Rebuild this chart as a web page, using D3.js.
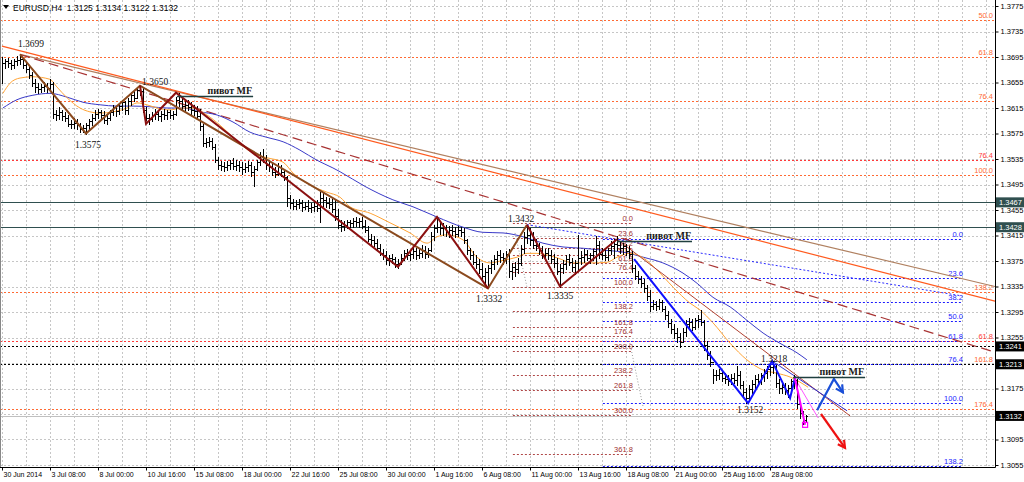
<!DOCTYPE html>
<html><head><meta charset="utf-8">
<script src="https://cdn.jsdelivr.net/npm/d3@7"></script>
<style>body{margin:0;background:#fff}svg{display:block}</style>
</head><body><svg id="c" width="1024" height="482"></svg>
<script>
// ---------- DATA ----------
const symbolTitle = "EURUSD,H4  1.3125 1.3134 1.3122 1.3132";
const highs = [
1.3695,1.3692,1.3694,1.3690,1.3692,1.3696,1.3699,1.3694,1.3688,1.3682,
1.3672,1.3660,1.3655,1.3652,1.3656,1.3654,1.3660,1.3656,1.3612,1.3616,
1.3612,1.3608,1.3604,1.3596,1.3600,1.3598,1.3592,1.3588,1.3592,1.3598,
1.3606,1.3612,1.3614,1.3612,1.3610,1.3604,1.3612,1.3620,1.3618,1.3622,
1.3628,1.3626,1.3630,1.3640,1.3644,1.3648,1.3650,1.3646,1.3616,1.3606,
1.3608,1.3614,1.3612,1.3610,1.3614,1.3612,1.3612,1.3610,1.3632,1.3638,
1.3630,1.3626,1.3628,1.3624,1.3620,1.3618,1.3614,1.3590,1.3568,1.3570,
1.3568,1.3558,1.3538,1.3532,1.3530,1.3532,1.3534,1.3536,1.3534,1.3532,
1.3530,1.3528,1.3532,1.3530,1.3524,1.3534,1.3546,1.3550,1.3542,1.3532,
1.3528,1.3522,1.3528,1.3526,1.3518,1.3508,1.3478,1.3472,1.3470,1.3472,
1.3470,1.3468,1.3470,1.3466,1.3468,1.3470,1.3484,1.3482,1.3476,1.3474,
1.3472,1.3470,1.3456,1.3440,1.3438,1.3440,1.3440,1.3442,1.3444,1.3442,
1.3444,1.3440,1.3430,1.3418,1.3414,1.3410,1.3402,1.3394,1.3390,1.3384,
1.3386,1.3382,1.3378,1.3386,1.3392,1.3394,1.3392,1.3398,1.3396,1.3394,
1.3400,1.3398,1.3396,1.3420,1.3432,1.3442,1.3436,1.3434,1.3432,1.3430,
1.3432,1.3428,1.3430,1.3428,1.3426,1.3410,1.3396,1.3390,1.3384,1.3378,
1.3372,1.3364,1.3368,1.3376,1.3384,1.3390,1.3392,1.3388,1.3390,1.3394,
1.3372,1.3374,1.3380,1.3400,1.3420,1.3432,1.3426,1.3420,1.3410,1.3404,
1.3398,1.3394,1.3396,1.3392,1.3386,1.3380,1.3370,1.3376,1.3384,1.3386,
1.3380,1.3376,1.3416,1.3390,1.3394,1.3392,1.3388,1.3394,1.3414,1.3406,
1.3396,1.3394,1.3396,1.3406,1.3410,1.3414,1.3406,1.3404,1.3402,1.3398,
1.3390,1.3368,1.3360,1.3352,1.3346,1.3338,1.3330,1.3314,1.3312,1.3316,
1.3314,1.3304,1.3296,1.3284,1.3276,1.3270,1.3262,1.3270,1.3282,1.3286,
1.3284,1.3286,1.3290,1.3298,1.3282,1.3250,1.3234,1.3206,1.3204,1.3206,
1.3202,1.3200,1.3196,1.3198,1.3200,1.3210,1.3202,1.3186,1.3176,1.3180,
1.3188,1.3196,1.3198,1.3200,1.3206,1.3210,1.3214,1.3218,1.3212,1.3190,
1.3186,1.3184,1.3180,1.3190,1.3196,1.3190,1.3152,1.3140,1.3134];
const lows = [
1.3655,1.3678,1.3680,1.3676,1.3678,1.3682,1.3684,1.3678,1.3672,1.3662,
1.3650,1.3640,1.3638,1.3640,1.3642,1.3640,1.3644,1.3600,1.3596,1.3598,
1.3596,1.3594,1.3586,1.3584,1.3584,1.3582,1.3578,1.3578,1.3575,1.3582,
1.3588,1.3596,1.3600,1.3598,1.3592,1.3590,1.3596,1.3604,1.3602,1.3606,
1.3612,1.3606,1.3605,1.3620,1.3626,1.3630,1.3636,1.3608,1.3596,1.3590,
1.3594,1.3598,1.3596,1.3594,1.3598,1.3598,1.3600,1.3598,1.3604,1.3618,
1.3612,1.3610,1.3612,1.3606,1.3604,1.3598,1.3580,1.3556,1.3554,1.3556,
1.3550,1.3530,1.3520,1.3518,1.3516,1.3518,1.3520,1.3520,1.3518,1.3516,
1.3512,1.3514,1.3516,1.3508,1.3492,1.3518,1.3526,1.3530,1.3520,1.3516,
1.3510,1.3506,1.3510,1.3508,1.3502,1.3462,1.3458,1.3456,1.3456,1.3458,
1.3454,1.3456,1.3454,1.3452,1.3454,1.3454,1.3436,1.3462,1.3460,1.3458,
1.3452,1.3440,1.3426,1.3422,1.3424,1.3426,1.3428,1.3428,1.3430,1.3428,
1.3426,1.3420,1.3406,1.3402,1.3398,1.3392,1.3384,1.3378,1.3370,1.3368,
1.3372,1.3366,1.3364,1.3370,1.3376,1.3378,1.3376,1.3380,1.3378,1.3380,
1.3382,1.3380,1.3382,1.3390,1.3408,1.3420,1.3418,1.3416,1.3414,1.3412,
1.3416,1.3412,1.3414,1.3414,1.3404,1.3386,1.3378,1.3370,1.3364,1.3356,
1.3346,1.3338,1.3332,1.3356,1.3362,1.3370,1.3374,1.3370,1.3372,1.3350,
1.3346,1.3352,1.3356,1.3368,1.3388,1.3404,1.3400,1.3396,1.3392,1.3386,
1.3380,1.3376,1.3378,1.3372,1.3366,1.3354,1.3335,1.3356,1.3362,1.3368,
1.3360,1.3354,1.3360,1.3370,1.3374,1.3376,1.3372,1.3376,1.3370,1.3380,
1.3378,1.3376,1.3376,1.3386,1.3380,1.3392,1.3388,1.3386,1.3384,1.3380,
1.3358,1.3346,1.3340,1.3334,1.3326,1.3314,1.3296,1.3300,1.3298,1.3300,
1.3296,1.3284,1.3272,1.3262,1.3254,1.3248,1.3240,1.3248,1.3258,1.3268,
1.3266,1.3268,1.3272,1.3274,1.3236,1.3222,1.3210,1.3184,1.3188,1.3190,
1.3186,1.3184,1.3180,1.3182,1.3184,1.3180,1.3176,1.3164,1.3152,1.3158,
1.3168,1.3174,1.3180,1.3182,1.3186,1.3192,1.3196,1.3200,1.3178,1.3168,
1.3168,1.3166,1.3162,1.3170,1.3176,1.3144,1.3128,1.3120,1.3122];
const closes = [
1.3685,1.3688,1.3686,1.3682,1.3688,1.3690,1.3692,1.3682,1.3676,1.3666,
1.3655,1.3648,1.3645,1.3648,1.3650,1.3646,1.3652,1.3606,1.3604,1.3608,
1.3602,1.3600,1.3590,1.3590,1.3592,1.3588,1.3582,1.3584,1.3588,1.3594,
1.3600,1.3606,1.3608,1.3604,1.3596,1.3600,1.3608,1.3616,1.3610,1.3618,
1.3624,1.3612,1.3626,1.3636,1.3630,1.3644,1.3642,1.3612,1.3600,1.3598,
1.3604,1.3606,1.3602,1.3606,1.3604,1.3608,1.3604,1.3606,1.3628,1.3626,
1.3618,1.3620,1.3616,1.3612,1.3610,1.3602,1.3586,1.3560,1.3562,1.3564,
1.3554,1.3534,1.3526,1.3524,1.3522,1.3526,1.3528,1.3524,1.3526,1.3522,
1.3520,1.3522,1.3526,1.3514,1.3520,1.3530,1.3540,1.3536,1.3526,1.3522,
1.3514,1.3512,1.3522,1.3514,1.3506,1.3474,1.3466,1.3462,1.3464,1.3466,
1.3460,1.3462,1.3458,1.3460,1.3462,1.3458,1.3474,1.3470,1.3466,1.3464,
1.3456,1.3446,1.3432,1.3430,1.3432,1.3436,1.3434,1.3438,1.3436,1.3438,
1.3430,1.3424,1.3410,1.3408,1.3404,1.3396,1.3388,1.3384,1.3376,1.3380,
1.3378,1.3370,1.3372,1.3380,1.3388,1.3384,1.3386,1.3390,1.3384,1.3388,
1.3392,1.3386,1.3392,1.3414,1.3426,1.3428,1.3426,1.3428,1.3420,1.3424,
1.3422,1.3418,1.3424,1.3420,1.3408,1.3392,1.3384,1.3374,1.3370,1.3362,
1.3352,1.3358,1.3364,1.3370,1.3378,1.3384,1.3382,1.3380,1.3386,1.3360,
1.3366,1.3362,1.3372,1.3394,1.3412,1.3416,1.3408,1.3400,1.3398,1.3392,
1.3384,1.3388,1.3384,1.3378,1.3372,1.3360,1.3364,1.3370,1.3378,1.3374,
1.3366,1.3372,1.3380,1.3382,1.3386,1.3380,1.3384,1.3390,1.3400,1.3386,
1.3384,1.3382,1.3392,1.3398,1.3402,1.3400,1.3396,1.3398,1.3390,1.3386,
1.3364,1.3352,1.3346,1.3340,1.3332,1.3320,1.3304,1.3308,1.3304,1.3310,
1.3300,1.3290,1.3278,1.3268,1.3262,1.3256,1.3248,1.3264,1.3276,1.3280,
1.3272,1.3282,1.3284,1.3280,1.3244,1.3228,1.3216,1.3196,1.3196,1.3200,
1.3192,1.3190,1.3186,1.3192,1.3188,1.3196,1.3180,1.3170,1.3160,1.3174,
1.3182,1.3190,1.3186,1.3196,1.3200,1.3206,1.3208,1.3210,1.3184,1.3176,
1.3178,1.3172,1.3176,1.3186,1.3188,1.3150,1.3136,1.3126,1.3132];

// moving averages: [bar index, price]
const maFast = [[0.3,1.3638],[2.7,1.3654],[6,1.3662],[10.3,1.3664],[16,1.3660],[18.3,1.3648],[21.7,1.3631],[26,1.3615],[29.3,1.3609],[32.7,1.3607],[37,1.3609],[41.7,1.3615],[45,1.3623],[48.3,1.3620],[51.7,1.3615],[56,1.3612],[60,1.3615],[63.7,1.3615],[68.3,1.3604],[72.7,1.3588],[77,1.3569],[83.7,1.3544],[88.3,1.3537],[93.7,1.3530],[97,1.3513],[102.7,1.3494],[108.3,1.3483],[112.7,1.3475],[116,1.3460],[122.7,1.3450],[129.3,1.3435],[136,1.3419],[141.7,1.3403],[145,1.3413],[148.3,1.3416],[153.7,1.3408],[158.3,1.3381],[162.7,1.3372],[167,1.3376],[171.7,1.3381],[175,1.3387],[178.3,1.3387],[185,1.3380],[190.3,1.3372],[196,1.3372],[201.7,1.3373],[205,1.3381],[209.3,1.3387],[213.7,1.3380],[218.3,1.3361],[223.7,1.3334],[229.3,1.3309],[232.7,1.3298],[237,1.3278],[242.7,1.3246],[248.3,1.3220],[253.7,1.3204],[258.3,1.3199],[262.7,1.3193],[266,1.3185],[268.7,1.3177]];
const maSlow = [[0.3,1.3615],[5,1.3628],[10.3,1.3635],[16,1.3638],[21.7,1.3632],[27,1.3624],[32.7,1.3620],[38.3,1.3618],[43.7,1.3618],[49.3,1.3617],[55,1.3615],[60.3,1.3615],[66,1.3609],[71.7,1.3604],[77,1.3593],[82.7,1.3577],[88.3,1.3569],[93.7,1.3562],[99.3,1.3549],[105,1.3533],[110.3,1.3521],[112.7,1.3515],[121,1.3492],[130.3,1.3471],[137,1.3460],[145,1.3444],[153.7,1.3428],[160.3,1.3420],[167,1.3419],[173.7,1.3413],[180.3,1.3403],[187,1.3397],[193.7,1.3395],[200.3,1.3392],[207,1.3389],[213.7,1.3381],[220.3,1.3372],[227,1.3356],[231.7,1.3340],[237,1.3318],[242.7,1.3303],[248.3,1.3282],[253.7,1.3262],[259.3,1.3246],[265,1.3231],[268.3,1.3220]];

// zigzags [bar, price]
const zigBrown = [[6,1.3699],[28,1.3575],[46,1.3650],[162,1.3332],[175,1.3432]];
const zigDarkRed1 = [[46,1.3650],[48,1.3590],[58,1.3639],[132,1.3366],[145,1.3444],[162,1.3332]];
const zigDarkRed2 = [[175,1.3432],[186,1.3335],[205,1.3409]];
const zigBlue = [[210.7,1.3378],[248.7,1.3152],[256.7,1.3218],[262.7,1.3160],[264.3,1.3191]];
const zigMagenta = [[264.3,1.3191],[267.7,1.3118]];

// trend lines [[bar,price],[bar,price]]
const trendOrange = [[0,1.3712],[331,1.3312]];
const trendTan = [[6,1.3699],[331,1.3335]];
const trendDashed = [[6,1.3699],[331,1.3232]];
const trendBlueDotted = [[175,1.3432],[319,1.3321]];
const trendThinMaroon = [[205,1.3409],[282.7,1.3132]];
const trendThinBlue = [[256.7,1.3218],[281.7,1.3140]];
const trendThinPink = [[264.3,1.3191],[272,1.3129]];
const fibDiag1 = [[171,1.3419],[175,1.3334]];
const fibDiag2 = [[209.3,1.3246],[213.7,1.3146]];

// arrows
const arrowBlue = [[271.7,1.3141],[277.3,1.3190],[280.3,1.3169]];
const arrowRed = [[273,1.3135],[281,1.3082]];

// horizontal levels
const orangeFibPrices = [1.3753,1.3695,1.3626,1.3510,1.3327,1.3213,1.3143];
const orangeFibLabels = ["50.0","61.8","76.4","100.0","138.2","161.8","176.4"];
const redFibPrices = [1.3534,1.3250];
const redFibLabels = ["76.4","61.8"];
const blackDotted = [1.3241,1.3213];
const solidLevels = [1.3467,1.3428];
const bidPrice = 1.3132;
const blueFibRatios = [0,23.6,38.2,50,61.8,76.4,100,138.2];
const blueFibAnchors = [1.3409,1.3152];
const blueFibSpan = [200.3,320.3];
const midFibRatios = [0,23.6,38.2,50,61.8,76.4,100,138.2,161.8,176.4,200,238.2,261.8,300,361.8];
const midFibAnchors = [1.3434,1.3334];
const midFibSpan = [170.3,210.3];
const tagPrices = [1.3467,1.3428,1.3241,1.3213,1.3132];

// text annotations [bar, price, text]
const pointLabels = [[5.3,1.3710,"1.3699"],[46.7,1.3651,"1.3650"],[24.3,1.3553,"1.3575"],[168.7,1.3436,"1.3432"],[158,1.3311,"1.3332"],[181.7,1.3315,"1.3335"],[253,1.3216,"1.3218"],[245,1.3136,"1.3152"]];
const pivotLines = [[58.3,83.7,1.3634],[205,230,1.3406],[263.7,287.7,1.3193]];
const pivotText = "пивот MF";

const priceTicks = [1.3775,1.3735,1.3695,1.3655,1.3615,1.3575,1.3535,1.3495,1.3455,1.3415,1.3375,1.3335,1.3295,1.3255,1.3215,1.3175,1.3135,1.3095,1.3055];
const timeTickBars = [0,16,32,48,64,80,96,112,128,144,160,176,192,208,224,240,256];
const timeLabels = ["30 Jun 2014","3 Jul 08:00","8 Jul 00:00","10 Jul 16:00","15 Jul 08:00","18 Jul 00:00","22 Jul 16:00","25 Jul 08:00","30 Jul 00:00","1 Aug 16:00","6 Aug 08:00","11 Aug 00:00","13 Aug 16:00","18 Aug 08:00","21 Aug 00:00","25 Aug 16:00","28 Aug 08:00"];

// ---------- DRAW ----------
const svg = d3.select("#c");
const W = 1024, H = 482, R = 995, B = 467;
const x = d3.scaleLinear().domain([0,331]).range([2,995]);
const y = d3.scaleLinear().domain([1.3055,1.3775]).range([465,6]);
const SANS = "Tahoma, 'Liberation Sans', Arial, sans-serif";
const SERIF = "'Liberation Serif', 'Times New Roman', serif";
const AXY = 7.5, AXX = 7, FIB = 7.5;

svg.append("rect").attr("width",W).attr("height",H).attr("fill","#fff");
const clip = svg.append("defs").append("clipPath").attr("id","pc");
clip.append("rect").attr("x",0).attr("y",0).attr("width",R).attr("height",B);
const plot = svg.append("g").attr("clip-path","url(#pc)");

// grid
const gx = d3.range(0,332,8);
plot.selectAll(".vg").data(gx).join("line")
  .attr("x1",d=>Math.round(x(d))+0.5).attr("x2",d=>Math.round(x(d))+0.5)
  .attr("y1",0).attr("y2",B).attr("stroke","#c6c6c6").attr("stroke-dasharray","2,2");
plot.selectAll(".hg").data(priceTicks).join("line")
  .attr("x1",0).attr("x2",R).attr("y1",d=>Math.round(y(d))+0.5).attr("y2",d=>Math.round(y(d))+0.5)
  .attr("stroke","#c6c6c6").attr("stroke-dasharray","2,2");

function hline(p, color, dash, w, x0, x1){
  const yy = Math.round(y(p))+0.5;
  plot.append("line").attr("x1",x0===undefined?0:x0).attr("x2",x1===undefined?R:x1)
    .attr("y1",yy).attr("y2",yy).attr("stroke",color).attr("stroke-width",w||1)
    .attr("stroke-dasharray",dash||null);
}
function label(t, xx, yy, color, anchor, size, fam){
  plot.append("text").attr("x",xx).attr("y",yy).attr("fill",color).attr("text-anchor",anchor||"end")
   .attr("font-family",fam||SANS).attr("font-size",size||FIB).text(t);
}

// price line
hline(bidPrice,"#c0c0c0",null,1);
// solid horizontal levels
solidLevels.forEach(p=>hline(p,"#2f4f4f",null,1));
// orange fib
orangeFibPrices.forEach((p,i)=>{hline(p,"#ff6a33","2,2",1); label(orangeFibLabels[i],993,y(p)-2,"#ff6a33");});
redFibPrices.forEach((p,i)=>{hline(p,"#ff3a3a","2,2",1); label(redFibLabels[i],993,y(p)-2,"#ff3a3a");});
blackDotted.forEach(p=>hline(p,"#000","2,2",1));

// blue fib
blueFibRatios.forEach(r=>{
  const p = blueFibAnchors[0] - (blueFibAnchors[0]-blueFibAnchors[1])*r/100;
  hline(p,"#1a1aff","2,2",1,x(blueFibSpan[0]),x(blueFibSpan[1]));
  label(r.toFixed(1),x(blueFibSpan[1]),y(p)-2,"#1a1aff");
});
// middle fib
midFibRatios.forEach(r=>{
  const p = midFibAnchors[0] - (midFibAnchors[0]-midFibAnchors[1])*r/100;
  hline(p,"#b04848","2,2",1,x(midFibSpan[0]),x(midFibSpan[1]));
  label(r.toFixed(1),x(midFibSpan[1]),y(p)-2,"#a03030");
});

const ln = d3.line().x(d=>x(d[0])).y(d=>y(d[1]));
function path(data,color,w,dash){
  plot.append("path").attr("d",ln(data)).attr("fill","none").attr("stroke",color)
   .attr("stroke-width",w).attr("stroke-dasharray",dash||null);
}
// trend lines
path(trendTan,"#b08060",1.2);
path(trendOrange,"#ff5a1e",1.2);
path(trendDashed,"#a83232",1.2,"10,5");
path(trendBlueDotted,"#2a2aff",1,"2,2");
path(fibDiag1,"#9a9a9a",1,"1,2");
path(fibDiag2,"#9a9a9a",1,"1,2");

// moving averages
const lnC = d3.line().x(d=>x(d[0])).y(d=>y(d[1])).curve(d3.curveMonotoneX);
plot.append("path").attr("d",lnC(maSlow)).attr("fill","none").attr("stroke","#3a3ac8").attr("stroke-width",1);
plot.append("path").attr("d",lnC(maFast)).attr("fill","none").attr("stroke","#ffa436").attr("stroke-width",1);

path(trendThinMaroon,"#b04030",1);
path(trendThinBlue,"#3030d0",1);
path(trendThinPink,"#ff55ff",1);

// bars
const bars = plot.append("g").attr("stroke","#000").attr("shape-rendering","crispEdges");
highs.forEach((h,i)=>{
  const xx = Math.round(x(i))+0.5;
  bars.append("line").attr("x1",xx).attr("x2",xx).attr("y1",y(h)).attr("y2",y(lows[i])+1);
  const yc = Math.round(y(closes[i]))+0.5;
  bars.append("line").attr("x1",xx).attr("x2",xx+1.5).attr("y1",yc).attr("y2",yc);
  if(i>0){const yo=Math.round(y(closes[i-1]))+0.5;
  bars.append("line").attr("x1",xx-1.5).attr("x2",xx).attr("y1",yo).attr("y2",yo);}
});

// zigzags
path(zigBrown,"#8b4a1e",2);
path(zigDarkRed1,"#8b1010",2);
path(zigDarkRed2,"#8b1010",2);
path(zigBlue,"#1010ff",2);
path(zigMagenta,"#ff00ff",2);
plot.append("rect").attr("x",x(zigMagenta[1][0])-2.5).attr("y",y(zigMagenta[1][1])-2.5)
  .attr("width",5).attr("height",5).attr("fill","none").attr("stroke","#ff00ff").attr("stroke-width",1.2);

// arrows
function arrow(data,color){
  path(data,color,2.2);
  const a = data[data.length-2], b = data[data.length-1];
  const ax=x(a[0]),ay=y(a[1]),bx=x(b[0]),by=y(b[1]);
  const ang = Math.atan2(by-ay,bx-ax), L=8;
  const p1=[bx-L*Math.cos(ang-0.5),by-L*Math.sin(ang-0.5)], p2=[bx-L*Math.cos(ang+0.5),by-L*Math.sin(ang+0.5)];
  plot.append("path").attr("d",`M${p1}L${bx},${by}L${p2}`).attr("fill","none").attr("stroke",color).attr("stroke-width",2.2);
}
arrow(arrowBlue,"#1a4fd8");
arrow(arrowRed,"#ee1111");

// pivot lines & text
pivotLines.forEach(d=>{
  const yy = Math.round(y(d[2]))+0.5;
  plot.append("line").attr("x1",x(d[0])).attr("x2",x(d[1])).attr("y1",yy).attr("y2",yy).attr("stroke","#1f3f3f").attr("stroke-width",1.3);
  plot.append("text").attr("x",x(d[1])-1).attr("y",yy-2.5).attr("text-anchor","end")
    .attr("font-family",SERIF).attr("font-size",10).attr("font-weight","bold").attr("fill","#1a1a1a").text(pivotText);
});
// point labels
pointLabels.forEach(d=>{
  plot.append("text").attr("x",x(d[0])).attr("y",y(d[1])).attr("font-family",SERIF).attr("font-size",9.5)
   .attr("fill","#111").text(d[2]);
});

// header
svg.append("path").attr("d","M3,5L9,5L6,9Z").attr("fill","#000");
svg.append("text").attr("x",13).attr("y",11).attr("font-family",SANS).attr("font-size",8.5).attr("fill","#000")
  .attr("xml:space","preserve").text(symbolTitle);

// frame
svg.append("line").attr("x1",0.5).attr("x2",0.5).attr("y1",0).attr("y2",B).attr("stroke","#888");
svg.append("line").attr("x1",R+0.5).attr("x2",R+0.5).attr("y1",0).attr("y2",B+0.5).attr("stroke","#000");
svg.append("line").attr("x1",0).attr("x2",R+0.5).attr("y1",B+0.5).attr("y2",B+0.5).attr("stroke","#000");

// right axis
const ya = svg.append("g").attr("transform",`translate(${R+0.5},0)`)
  .call(d3.axisRight(y).tickValues(priceTicks).tickFormat(d3.format(".4f")).tickSize(3).tickPadding(2));
ya.select(".domain").remove();
ya.selectAll("text").attr("font-family",SANS).attr("font-size",AXY).attr("fill","#000");
ya.selectAll("line").attr("stroke","#000");
// price tags
tagPrices.forEach((p,i)=>{
  const yy = y(p);
  svg.append("rect").attr("x",R+1).attr("y",yy-5).attr("width",W-R-1).attr("height",10)
    .attr("fill", i<2 ? "#2f4f4f" : "#000");
  svg.append("text").attr("x",R+4).attr("y",yy+3).attr("font-family",SANS).attr("font-size",AXY)
    .attr("fill","#fff").text(d3.format(".4f")(p));
});

// bottom axis
const xa = svg.append("g").attr("transform",`translate(0,${B+0.5})`)
  .call(d3.axisBottom(x).tickValues(timeTickBars).tickFormat((d,i)=>timeLabels[i]).tickSize(3).tickPadding(2));
xa.select(".domain").remove();
xa.selectAll("text").attr("text-anchor","start").attr("dx",1).attr("font-family",SANS).attr("font-size",AXX).attr("fill","#000");
xa.selectAll("line").attr("stroke","#000");
</script></body></html>
